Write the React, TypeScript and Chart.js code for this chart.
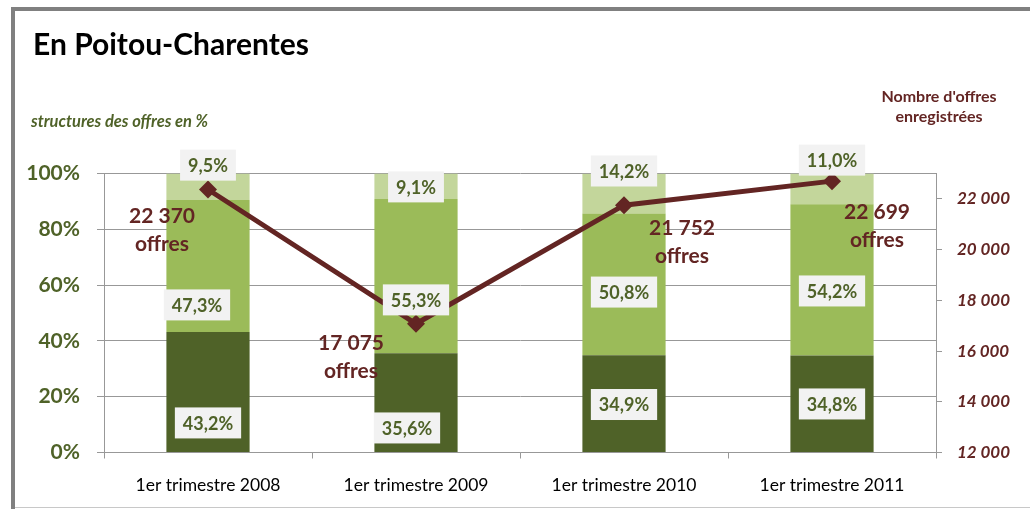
import React, { useEffect, useRef } from "react";
import { Chart, registerables } from "chart.js";

Chart.register(...registerables);

// ---- data ----
const categories = ["1er trimestre 2008", "1er trimestre 2009", "1er trimestre 2010", "1er trimestre 2011"];
const shareLow = [43.2, 35.6, 34.9, 34.8];
const shareMid = [47.3, 55.3, 50.8, 54.2];
const shareHigh = [9.5, 9.1, 14.2, 11.0];
const offers = [22370, 17075, 21752, 22699];
const offerTicks = [12000, 14000, 16000, 18000, 20000, 22000];

// ---- label placement (in % units of left axis) ----
const anchorHigh = [103.0, 95.2, 100.9, 104.8];
const anchorMid = [52.9, 54.7, 57.5, 57.9];
const anchorLow = [10.6, 8.8, 17.2, 17.4];
const shiftHigh = [0, 0, 0, 0];
const shiftMid = [-11, 0, 0, 0];
const shiftLow = [0, -9, 0, 0];
const offerLabelDx = [-46, -65, 58, 45];
const offerLabelDy = [27, 19, 23, 31];

const FONT = "Lato, 'Open Sans', sans-serif";
const GREEN_DARK = "#4F6228";
const GREEN_MID = "#9BBB59";
const GREEN_LIGHT = "#C3D69B";
const RED = "#632523";
const GRID = "#989898";

const fmtPct = (v: number) => v.toFixed(1).replace(".", ",") + "%";
const fmtNum = (v: number) => String(Math.round(v)).replace(/\B(?=(\d{3})+(?!\d))/g, " ");

const labelsPlugin = {
  id: "customLabels",
  afterDatasetsDraw(chart: any) {
    const ctx = chart.ctx;
    const x = chart.scales.x;
    const y = chart.scales.y;
    const y2 = chart.scales.y2;
    ctx.save();
    ctx.font = `bold 18px ${FONT}`;
    ctx.textAlign = "center";
    ctx.textBaseline = "middle";
    const drawBox = (cx: number, cy: number, text: string) => {
      const w = ctx.measureText(text).width + 16;
      const h = 31;
      ctx.fillStyle = "#F2F2F2";
      ctx.fillRect(cx - w / 2, cy - h / 2, w, h);
      ctx.fillStyle = GREEN_DARK;
      ctx.fillText(text, cx, cy + 1);
    };
    categories.forEach((_, i) => {
      const cx = x.getPixelForValue(i);
      drawBox(cx + shiftHigh[i], y.getPixelForValue(anchorHigh[i]), fmtPct(shareHigh[i]));
      drawBox(cx + shiftMid[i], y.getPixelForValue(anchorMid[i]), fmtPct(shareMid[i]));
      drawBox(cx + shiftLow[i], y.getPixelForValue(anchorLow[i]), fmtPct(shareLow[i]));
    });
    ctx.font = `bold 21px ${FONT}`;
    ctx.fillStyle = RED;
    offers.forEach((v, i) => {
      const px = x.getPixelForValue(i) + offerLabelDx[i];
      const py = y2.getPixelForValue(v) + offerLabelDy[i];
      ctx.fillText(fmtNum(v), px, py);
      ctx.fillText("offres", px, py + 28);
    });
    ctx.restore();
  },
  afterDraw(chart: any) {
    const ctx = chart.ctx;
    ctx.save();
    // frame
    ctx.fillStyle = "#808080";
    ctx.fillRect(11, 7, 4, 509);
    ctx.fillRect(11, 7, 1030, 4);
    ctx.fillStyle = "#C8C8C8";
    ctx.fillRect(15, 507, 1030, 1);
    // title
    ctx.textBaseline = "alphabetic";
    ctx.textAlign = "left";
    ctx.fillStyle = "#000000";
    ctx.font = `bold 30px ${FONT}`;
    ctx.fillText("En Poitou-Charentes", 33, 55);
    ctx.fillStyle = GREEN_DARK;
    ctx.font = `italic bold 16.5px ${FONT}`;
    ctx.fillText("structures des offres en %", 31, 127);
    ctx.fillStyle = RED;
    ctx.textAlign = "center";
    ctx.textBaseline = "middle";
    ctx.font = `bold 16px ${FONT}`;
    ctx.fillText("Nombre d'offres", 939, 97);
    ctx.fillText("enregistrées", 939, 117);
    ctx.restore();
  },
};

export default function App() {
  const ref = useRef<HTMLCanvasElement>(null);
  useEffect(() => {
    if (!ref.current) return;
    const chart = new Chart(ref.current, {
      type: "bar",
      data: {
        labels: categories,
        datasets: [
          {
            type: "line",
            label: "Nombre d'offres",
            data: offers,
            yAxisID: "y2",
            borderColor: RED,
            backgroundColor: RED,
            borderWidth: 5,
            pointStyle: "rectRot",
            pointRadius: 9,
            pointBackgroundColor: RED,
            pointBorderWidth: 0,
            order: 0,
          } as any,
          { label: "bas", data: shareLow, backgroundColor: GREEN_DARK, yAxisID: "y", order: 1, stack: "s" },
          { label: "milieu", data: shareMid, backgroundColor: GREEN_MID, yAxisID: "y", order: 1, stack: "s" },
          { label: "haut", data: shareHigh, backgroundColor: GREEN_LIGHT, yAxisID: "y", order: 1, stack: "s" },
        ],
      },
      options: {
        animation: false,
        responsive: false,
        layout: { padding: { top: 173.5, left: 0, right: 0, bottom: 0 } },
        datasets: { bar: { categoryPercentage: 1, barPercentage: 0.4 } },
        plugins: { legend: { display: false }, tooltip: { enabled: false }, title: { display: false } },
        scales: {
          x: {
            stacked: true,
            afterFit: (s: any) => { s.height = 509 - 452.5; },
            grid: { drawOnChartArea: false, drawTicks: true, tickLength: 6, offset: true, color: GRID },
            border: { display: true, color: GRID, width: 1 },
            ticks: { color: "#000000", font: { family: FONT, size: 17.5 }, padding: 16, maxRotation: 0 },
          },
          y: {
            stacked: true,
            position: "left",
            min: 0,
            max: 100,
            afterFit: (s: any) => { s.width = 104; },
            ticks: {
              stepSize: 20,
              padding: 17,
              color: GREEN_DARK,
              font: { family: FONT, size: 21, weight: "bold" },
              callback: (v: any) => v + "%",
            },
            grid: { color: GRID, tickLength: 7, drawTicks: true },
            border: { display: true, color: GRID, width: 1 },
          },
          y2: {
            position: "right",
            min: 12000,
            max: 23000,
            afterFit: (s: any) => { s.width = 1030 - 936; },
            afterBuildTicks: (s: any) => { s.ticks = offerTicks.map((v) => ({ value: v })); },
            ticks: {
              padding: 15,
              color: RED,
              font: { family: FONT, size: 17, weight: "bold", style: "italic" },
              callback: (v: any) => fmtNum(Number(v)),
            },
            grid: { drawOnChartArea: false, drawTicks: true, tickLength: 6, color: GRID },
            border: { display: true, color: GRID, width: 1 },
          },
        },
      } as any,
      plugins: [labelsPlugin],
    });
    return () => chart.destroy();
  }, []);
  return (
    <div style={{ position: "absolute", left: 0, top: 0, width: 1030, height: 509, background: "#fff" }}>
      <canvas ref={ref} width={1030} height={509} />
    </div>
  );
}
